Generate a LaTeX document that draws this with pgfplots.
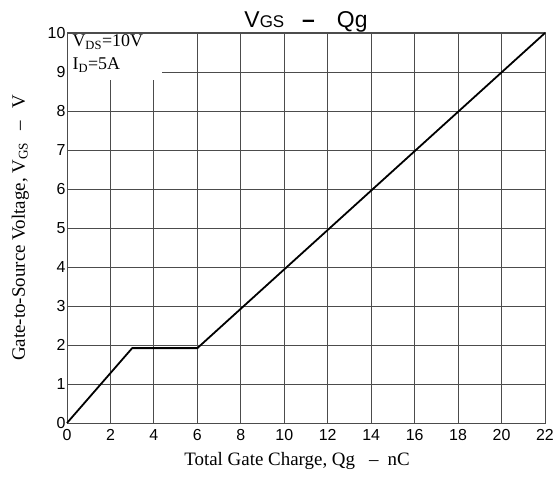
\documentclass[border=0pt]{standalone}
\usepackage{pgfplots}
\pgfplotsset{compat=1.18}
\usepackage{fontspec}
\setmainfont{Liberation Serif}
\newfontfamily\arial{Liberation Sans}

\begin{document}
\begin{tikzpicture}[x=1bp,y=1bp]
\begin{axis}[
    scale only axis,
    width=478bp, height=390bp,
    xmin=0, xmax=22, ymin=0, ymax=10,
    xtick={0,2,...,22}, ytick={0,1,...,10},
    grid=major,
    major grid style={draw=black!70, line width=0.9pt},
    axis line style={draw=black!70, line width=1pt},
    tick style={draw=none},
    ticklabel style={font=\arial\fontsize{16}{16}\selectfont},
    /pgf/number format/assume math mode=true,
    xticklabel style={yshift=-3bp},
    yticklabel style={xshift=2bp},
    xlabel={Total Gate Charge, Qg\hspace{14bp}–\hspace{9bp}nC},
    ylabel={Gate-to-Source Voltage, V\textsubscript{GS}\hspace{12bp}–\hspace{12bp}V},
    label style={font=\fontsize{19}{19}\selectfont},
    xlabel style={yshift=-5bp, xshift=-9bp},
    ylabel style={yshift=12bp},
    title={V{\fontsize{17}{17}\selectfont GS}\hspace{18bp}\textbf{–}\hspace{22bp}Qg},
    title style={font=\arial\fontsize{23}{23}\selectfont, yshift=-9bp},
    clip=false,
]
\fill[white] (axis cs:0.05,8.8) rectangle (axis cs:4.37,9.97);
\node[anchor=north west, align=left, inner sep=1bp, font=\fontsize{18}{23}\selectfont]
  at (axis cs:0.2,9.98) {V\textsubscript{DS}=10V\\I\textsubscript{D}=5A};
\addplot[black, line width=1.8pt] coordinates {(0,0) (3.0,1.92) (6.0,1.92) (22,10)};
\end{axis}
\pgfresetboundingbox
\path[use as bounding box] (-67bp,-54bp) rectangle (493bp,423bp);
\end{tikzpicture}
\end{document}
